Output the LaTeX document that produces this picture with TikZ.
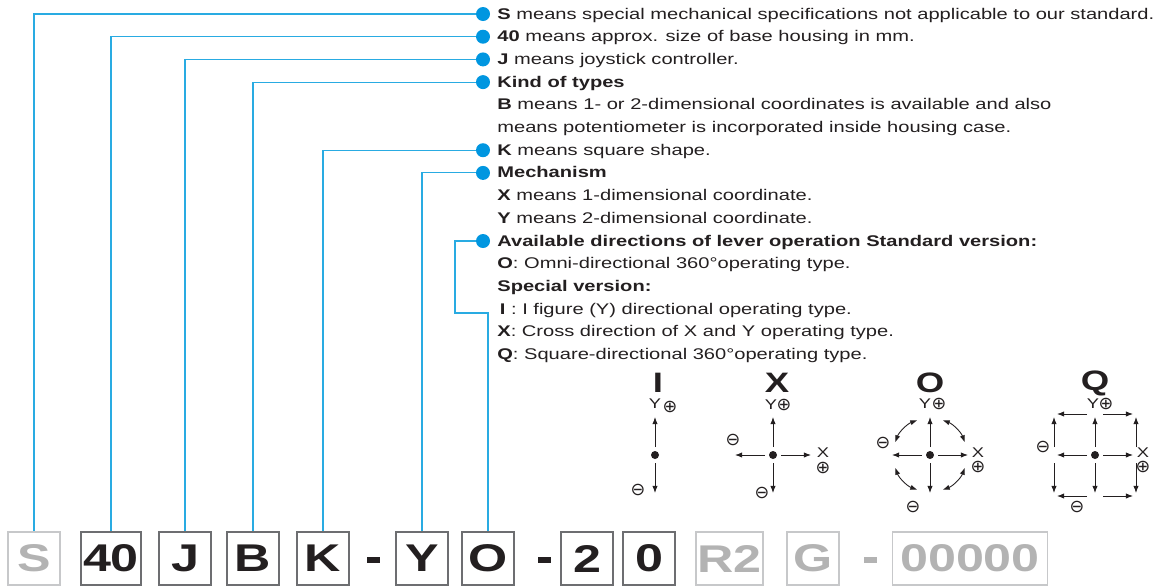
\documentclass[tikz,border=0pt]{standalone}
\usepackage{fontspec}
\setmainfont{Liberation Sans}[FakeStretch=1.3]
\newfontfamily\symfont{DejaVu Sans}
\usepackage{tikz}
\usetikzlibrary{arrows.meta}

\definecolor{inkc}{HTML}{231F20}
\definecolor{leadc}{HTML}{29ABE2}
\definecolor{dotc}{HTML}{0096E0}
\definecolor{fadec}{HTML}{B3B3B3}
\definecolor{framec}{HTML}{6D6E71}
\definecolor{fadeframe}{HTML}{C7C8CA}

\tikzset{
  dot/.style={circle,fill=dotc,inner sep=0pt,minimum size=0.28cm},
  lead/.style={draw=leadc,line width=0.6pt},
  txt/.style={anchor=base west,inner sep=0pt,text=inkc,font=\fontsize{8.8}{10}\selectfont},
  codebox/.style={draw=framec,line width=0.6pt,minimum width=1.04cm,minimum height=1.06cm,inner sep=0pt,text=inkc,font=\fontsize{22}{22}\selectfont\bfseries},
  fadebox/.style={codebox,draw=fadeframe,text=fadec},
  sep/.style={fill=inkc,inner sep=0pt,minimum width=0.26cm,minimum height=0.11cm},
  ttl/.style={inner sep=0pt,text=inkc,font=\fontsize{16}{16}\selectfont\bfseries},
  axl/.style={inner sep=0pt,text=inkc,font=\fontsize{8}{8}\selectfont},
  sgn/.style={inner sep=0pt,text=inkc,font=\symfont\fontsize{10}{10}\selectfont},
  hub/.style={circle,fill=inkc,inner sep=0pt,minimum size=0.16cm},
  dir/.style={draw=inkc,line width=0.5pt,-{Latex[length=4pt,width=3pt]}},
  dirs/.style={draw=inkc,line width=0.5pt,{Latex[length=4pt,width=3pt]}-{Latex[length=4pt,width=3pt]}},
}

\begin{document}
\begin{tikzpicture}[x=0.02cm,y=-0.02cm]
  \useasboundingbox (0,0) rectangle (1162,586);

  % legend text
  \draw (497,19) node[txt] (t1) {\textbf{S} means special mechanical specifications not applicable to our standard.};
  \draw (497,41.7) node[txt] (t2) {\textbf{40} means approx. size of base housing in mm.};
  \draw (497,64.4) node[txt] (t3) {\textbf{J} means joystick controller.};
  \draw (497,87.1) node[txt] (t4) {\textbf{Kind of types}};
  \draw (497,109.8) node[txt] (t5) {\textbf{B} means 1- or 2-dimensional coordinates is available and also};
  \draw (497,132.5) node[txt] (t6) {means potentiometer is incorporated inside housing case.};
  \draw (497,155.2) node[txt] (t7) {\textbf{K} means square shape.};
  \draw (497,177.9) node[txt] (t8) {\textbf{Mechanism}};
  \draw (497,200.6) node[txt] (t9) {\textbf{X} means 1-dimensional coordinate.};
  \draw (497,223.3) node[txt] (t10) {\textbf{Y} means 2-dimensional coordinate.};
  \draw (497,246) node[txt] (t11) {\textbf{Available directions of lever operation Standard version:}};
  \draw (497,268.7) node[txt] (t12) {\textbf{O}: Omni-directional 360°operating type.};
  \draw (497,291.4) node[txt] (t13) {\textbf{Special version:}};
  \draw (497,314.1) node[txt] (t14) {\,\textbf{I} : I figure (Y) directional operating type.};
  \draw (497,336.8) node[txt] (t15) {\textbf{X}: Cross direction of X and Y operating type.};
  \draw (497,359.5) node[txt] (t16) {\textbf{Q}: Square-directional 360°operating type.};

  \draw (483,14) node[dot] (b1) {};
  \draw (483,36.7) node[dot] (b2) {};
  \draw (483,59.4) node[dot] (b3) {};
  \draw (483,82.1) node[dot] (b4) {};
  \draw (483,150.2) node[dot] (b5) {};
  \draw (483,172.9) node[dot] (b6) {};
  \draw (483,241) node[dot] (b7) {};

  % order code
  \draw (34,558.5) node[fadebox] (kS) {S};
  \draw (111,558.5) node[codebox,minimum width=1.2cm] (k40) {40};
  \draw (185,558.5) node[codebox] (kJ) {J};
  \draw (253,558.5) node[codebox] (kB) {B};
  \draw (323,558.5) node[codebox] (kK) {K};
  \draw (373,560) node[sep] (d1) {};
  \draw (422,558.5) node[codebox] (kY) {Y};
  \draw (488,558.5) node[codebox] (kO) {O};
  \draw (544,560) node[sep] (d2) {};
  \draw (587,558.5) node[codebox] (k2) {2};
  \draw (649,558.5) node[codebox] (k0) {0};
  \draw (729.5,558.5) node[fadebox,minimum width=1.34cm] (kR) {R2};
  \draw (813,558.5) node[fadebox] (kG) {G};
  \draw (870,560) node[sep,fill=fadec] (d3) {};
  \draw (970,558.5) node[fadebox,minimum width=3.1cm] (kN) {00000};

  \draw[lead] (b1.west) -| (kS.north);
  \draw[lead] (b2.west) -| (k40.north);
  \draw[lead] (b3.west) -| (kJ.north);
  \draw[lead] (b4.west) -| (kB.north);
  \draw[lead] (b5.west) -| (kK.north);
  \draw[lead] (b6.west) -| (kY.north);
  \coordinate (oBend) at (455,313);
  \draw[lead] (b7.west) -| (oBend) -| (kO.north);

  % lever directions
  \draw (658,383) node[ttl] (nI) {I};
  \draw (777,383) node[ttl] (nX) {X};
  \draw (930,383) node[ttl] (nO) {O};
  \draw (1095,383) node[ttl] (nQ) {Q};

  \draw (655,455) node[hub] (hI) {};
  \draw (773,455) node[hub] (hX) {};
  \draw (930,455) node[hub] (hO) {};
  \draw (1095,455) node[hub] (hQ) {};

  \foreach \a in {90,270} \draw[dir] (hI) ++(\a:8) -- ++(\a:30);
  \foreach \a in {0,90,180,270} {
    \draw[dir] (hX) ++(\a:8) -- ++(\a:30);
    \draw[dir] (hO) ++(\a:8) -- ++(\a:30);
    \draw[dir] (hQ) ++(\a:8) -- ++(\a:30);
  }
  \foreach \a in {20,110,200,290} \draw[dirs] (hO) ++(\a:37) arc (\a:\a+50:37);
  \foreach \sx in {-1,1} \foreach \sy in {-1,1} {
    \draw[dir] (hQ) ++(8*\sx,41*\sy) -- ++(30*\sx,0);
    \draw[dir] (hQ) ++(41*\sx,8*\sy) -- ++(0,30*\sy);
  }

  \draw (655,404) node[axl] (yI) {Y};
  \draw (670,407) node[sgn] (pI) {⊕};
  \draw (638,490) node[sgn] (mI) {⊖};

  \draw (771,405) node[axl] (yX) {Y};
  \draw (784,405) node[sgn] (pX) {⊕};
  \draw (733,440) node[sgn] (mX) {⊖};
  \draw (823,453) node[axl] (xX) {X};
  \draw (823,468) node[sgn] (qX) {⊕};
  \draw (762,493) node[sgn] (nX2) {⊖};

  \draw (925,404) node[axl] (yO) {Y};
  \draw (939,404) node[sgn] (pO) {⊕};
  \draw (883,443) node[sgn] (mO) {⊖};
  \draw (978,453) node[axl] (xO) {X};
  \draw (978,467) node[sgn] (qO) {⊕};
  \draw (913,507) node[sgn] (nO2) {⊖};

  \draw (1093,404) node[axl] (yQ) {Y};
  \draw (1106,404) node[sgn] (pQ) {⊕};
  \draw (1043,447) node[sgn] (mQ) {⊖};
  \draw (1143,453) node[axl] (xQ) {X};
  \draw (1143,467) node[sgn] (qQ) {⊕};
  \draw (1077,507) node[sgn] (nQ2) {⊖};
\end{tikzpicture}
\end{document}
